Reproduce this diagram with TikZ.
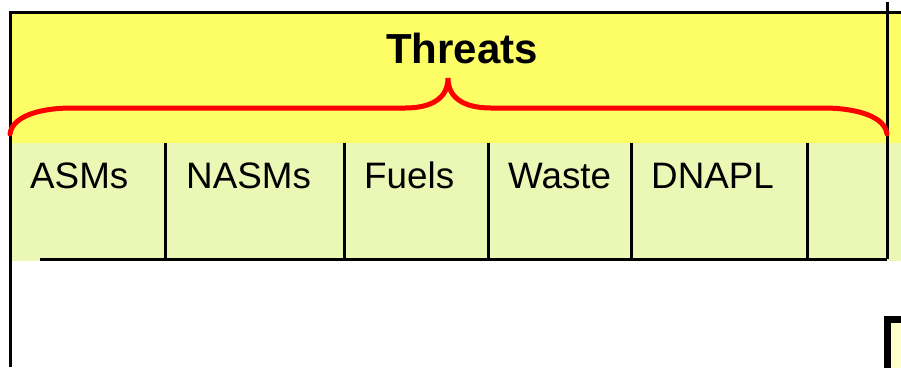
\documentclass[tikz,border=0pt]{standalone}
\usepackage{fontspec}
\setmainfont{Liberation Sans}
\definecolor{hdryellow}{HTML}{FDFD66}
\definecolor{cellgreen}{HTML}{EBF7B4}
\definecolor{boxyellow}{HTML}{FFFFCC}
\definecolor{bracered}{HTML}{FF0000}
\tikzset{
  frame/.style={line width=3pt, black},
  celllabel/.style={anchor=base west, inner sep=0pt, font=\fontsize{36.8}{44}\selectfont},
  titlelabel/.style={anchor=base, inner sep=0pt, font=\fontsize{42}{50}\selectfont\bfseries},
  brace/.style={line width=5pt, bracered, line cap=round}
}
\begin{document}
\begin{tikzpicture}[x=1pt,y=-1pt]
\useasboundingbox (0,0) rectangle (901,367);
% backgrounds
\fill[hdryellow] (11,12) rectangle (901,143);
\fill[cellgreen] (11,143) rectangle (901,261);
% frame lines
\draw[frame] (9,12) -- (901,12);
\draw[frame] (10.5,12) -- (10.5,367);
\draw[frame] (887,2) -- (887,259);
\draw[frame] (40,259) -- (887,259);
\foreach \x in {165,344,488,631,807} {
  \draw[frame] (\x,143) -- (\x,261);
}
% brace
\draw[brace] (10,134) .. controls (12,117) and (38,108) .. (72,108)
  -- (405,108) .. controls (432,108) and (448,98) .. (448,78)
  .. controls (448,98) and (464,108) .. (491,108)
  -- (823,108) .. controls (858,108) and (885,117) .. (887,134);
% texts
\node[titlelabel] (title) at (462,63) {Threats};
\node[celllabel] (asms) at (30,188) {ASMs};
\node[celllabel] (nasms) at (186,188) {NASMs};
\node[celllabel] (fuels) at (364,188) {Fuels};
\node[celllabel] (waste) at (508,188) {Waste};
\node[celllabel] (dnapl) at (651,188) {DNAPL};
% bottom right box
\fill[boxyellow] (887.5,319.5) rectangle (905,370);
\draw[line width=7pt, black] (887.5,370) -- (887.5,319.5) -- (905,319.5);
\end{tikzpicture}
\end{document}
